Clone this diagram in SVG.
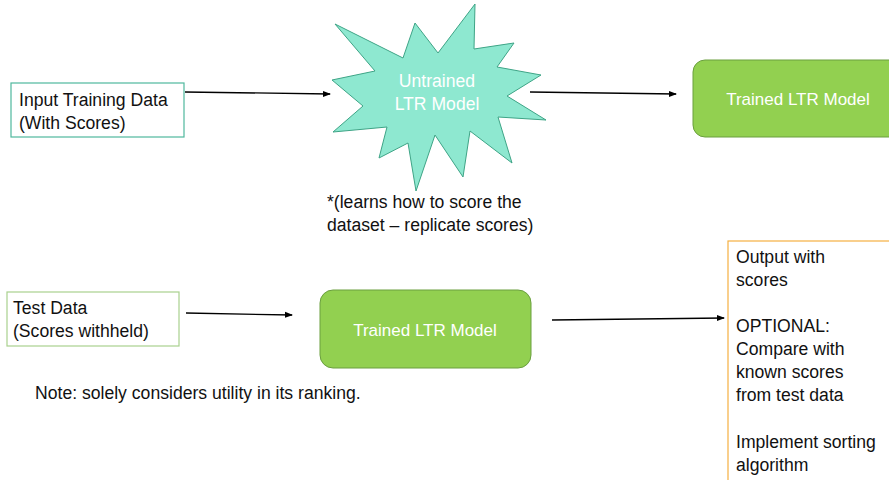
<svg xmlns="http://www.w3.org/2000/svg" width="889" height="480" viewBox="0 0 889 480">
<defs>
<style>
text { font-family: "Liberation Sans", Arial, sans-serif; font-size: 17.6px; fill: #111; }
.wt { fill: #ffffff; text-anchor: middle; font-size: 17px; }
.model { fill: #92d050; stroke: #6a9f3e; stroke-width: 1; }
.conn { stroke: #000; stroke-width: 1.3; fill: none; marker-end: url(#ah); }
</style>
<marker id="ah" markerWidth="8" markerHeight="8" refX="7" refY="4" orient="auto" markerUnits="userSpaceOnUse">
<path d="M0,1 L8,4 L0,7 Z" fill="#000"/>
</marker>
</defs>
<rect width="889" height="480" fill="#ffffff"/>

<g id="input-training">
<rect x="11" y="83" width="173" height="54" fill="#fff" stroke="#4fb89d" stroke-width="1.2"/>
<text x="19" y="106">Input Training Data</text>
<text x="19" y="129">(With Scores)</text>
</g>

<g id="untrained-model">
<polygon points="387,127 379,158 408,143 416,191 435,135 463,177 470,131 512,163 498,117 546,120 507,96 541,75 497,67 514,43 474,49 475,4 438,53 415,23 403,58 335,24 375,71 332,80 363,106 333,132" fill="#8ee8d0" stroke="#3ea486" stroke-width="1"/>
<text class="wt" x="437" y="87" style="font-size:17.6px">Untrained</text>
<text class="wt" x="437" y="110" style="font-size:17.6px">LTR Model</text>
</g>

<g id="caption">
<text x="327" y="208">*(learns how to score the</text>
<text x="327" y="231">dataset – replicate scores)</text>
</g>

<g id="trained-model-top">
<rect class="model" x="693" y="60" width="210" height="77" rx="12"/>
<text class="wt" x="798" y="105">Trained LTR Model</text>
</g>

<g id="test-data">
<rect x="7" y="292" width="172" height="54" fill="#fff" stroke="#a9d18e" stroke-width="1.2"/>
<text x="13" y="314">Test Data</text>
<text x="13" y="337">(Scores withheld)</text>
</g>

<g id="trained-model-bottom">
<rect class="model" x="320" y="290" width="211" height="78" rx="13"/>
<text class="wt" x="425" y="336">Trained LTR Model</text>
</g>

<g id="output">
<rect x="728" y="241" width="180" height="260" fill="#fff" stroke="#f5b041" stroke-width="1.2"/>
<text x="736" y="263">Output with</text>
<text x="736" y="286">scores</text>
<text x="736" y="332">OPTIONAL:</text>
<text x="736" y="355">Compare with</text>
<text x="736" y="378">known scores</text>
<text x="736" y="401">from test data</text>
<text x="736" y="448">Implement sorting</text>
<text x="736" y="471">algorithm</text>
</g>

<g id="note">
<text x="35" y="399">Note: solely considers utility in its ranking.</text>
</g>

<g id="connectors">
<line class="conn" x1="185" y1="92" x2="330" y2="94"/>
<line class="conn" x1="530" y1="92" x2="676" y2="94"/>
<line class="conn" x1="186" y1="313" x2="292" y2="315"/>
<line class="conn" x1="552" y1="320" x2="724" y2="318"/>
</g>
</svg>
